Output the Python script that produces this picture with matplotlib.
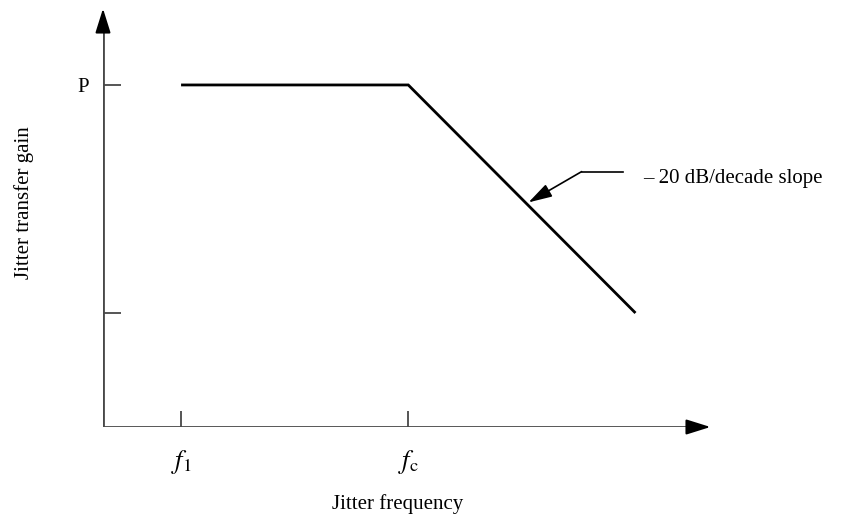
import matplotlib

matplotlib.use("Agg")
import matplotlib.pyplot as plt  # noqa: E402

# piecewise jitter transfer curve (arbitrary units along each axis)
freq = [1.0, 3.91, 6.82]          # f1, fc, end of roll-off
gain = [3.0, 3.0, 1.0]            # flat at P, then -20 dB/decade
xtick_pos = [1.0, 3.91]
xtick_lab = [r"$f_{\mathrm{1}}$", r"$f_{\mathrm{c}}$"]
ytick_pos = [1.0, 3.0]
ytick_lab = ["", "P"]
x_max, y_max = 7.78, 3.67

INK = "black"
AXIS = "#484848"
SERIF = ["Liberation Serif", "DejaVu Serif"]

plt.rcParams.update({"font.family": SERIF, "font.size": 15, "mathtext.fontset": "stix"})

W, H = 854, 525
fig = plt.figure(figsize=(W / 100, H / 100), dpi=100)
x0, y0 = 103, 427
ax = fig.add_axes([x0 / W, (H - y0) / H, (712 - x0) / W, (y0 - 8) / H])
ax.set_xlim(0, 7.80)
ax.set_ylim(0, 3.675)
ax.axis("off")

# axes with arrowheads
arrow = dict(arrowstyle="-|>,head_length=1.15,head_width=0.36", color=INK, lw=1.4,
             shrinkA=0, shrinkB=0, mutation_scale=13)
ax.plot([0, x_max - 0.2], [0, 0], color=AXIS, lw=2.0, solid_capstyle="butt")
ax.plot([0, 0], [0, y_max - 0.15], color=AXIS, lw=2.0, solid_capstyle="butt")
ax.annotate("", xy=(x_max, 0), xytext=(x_max - 0.3, 0), arrowprops=arrow)
ax.annotate("", xy=(0, y_max), xytext=(0, y_max - 0.2), arrowprops=arrow)

# ticks
for xp, lab in zip(xtick_pos, xtick_lab):
    ax.plot([xp, xp], [0, 0.14], color=AXIS, lw=1.3, solid_capstyle="butt")
    ax.text(xp, -0.31, lab, ha="center", va="center", fontsize=19)
for yp, lab in zip(ytick_pos, ytick_lab):
    ax.plot([0, 0.23], [yp, yp], color=AXIS, lw=1.3, solid_capstyle="butt")
    if lab:
        ax.text(-0.18, yp - 0.02, lab, ha="right", va="center", fontsize=15)

# the curve
ax.plot(freq, gain, color=INK, lw=2.0, solid_capstyle="butt", solid_joinstyle="miter",
        clip_on=False)

# slope annotation
ax.plot([6.13, 6.66], [2.24, 2.24], color=INK, lw=1.2)
ax.annotate("", xy=(5.45, 1.97), xytext=(6.13, 2.24),
            arrowprops=dict(arrowstyle="-|>,head_length=1.2,head_width=0.35", color=INK,
                            lw=1.2, shrinkA=0, shrinkB=0, mutation_scale=12))
ax.text(6.92, 2.18, "– 20 dB/decade slope", ha="left", va="center", fontsize=15,
        clip_on=False)

fig.text(398 / W, 1 - 504 / H, "Jitter frequency", ha="center", va="center", fontsize=15)
fig.text(24 / W, 1 - 203 / H, "Jitter transfer gain", ha="center", va="center",
         rotation=90, fontsize=15)

fig.savefig("out.png", dpi=100)
